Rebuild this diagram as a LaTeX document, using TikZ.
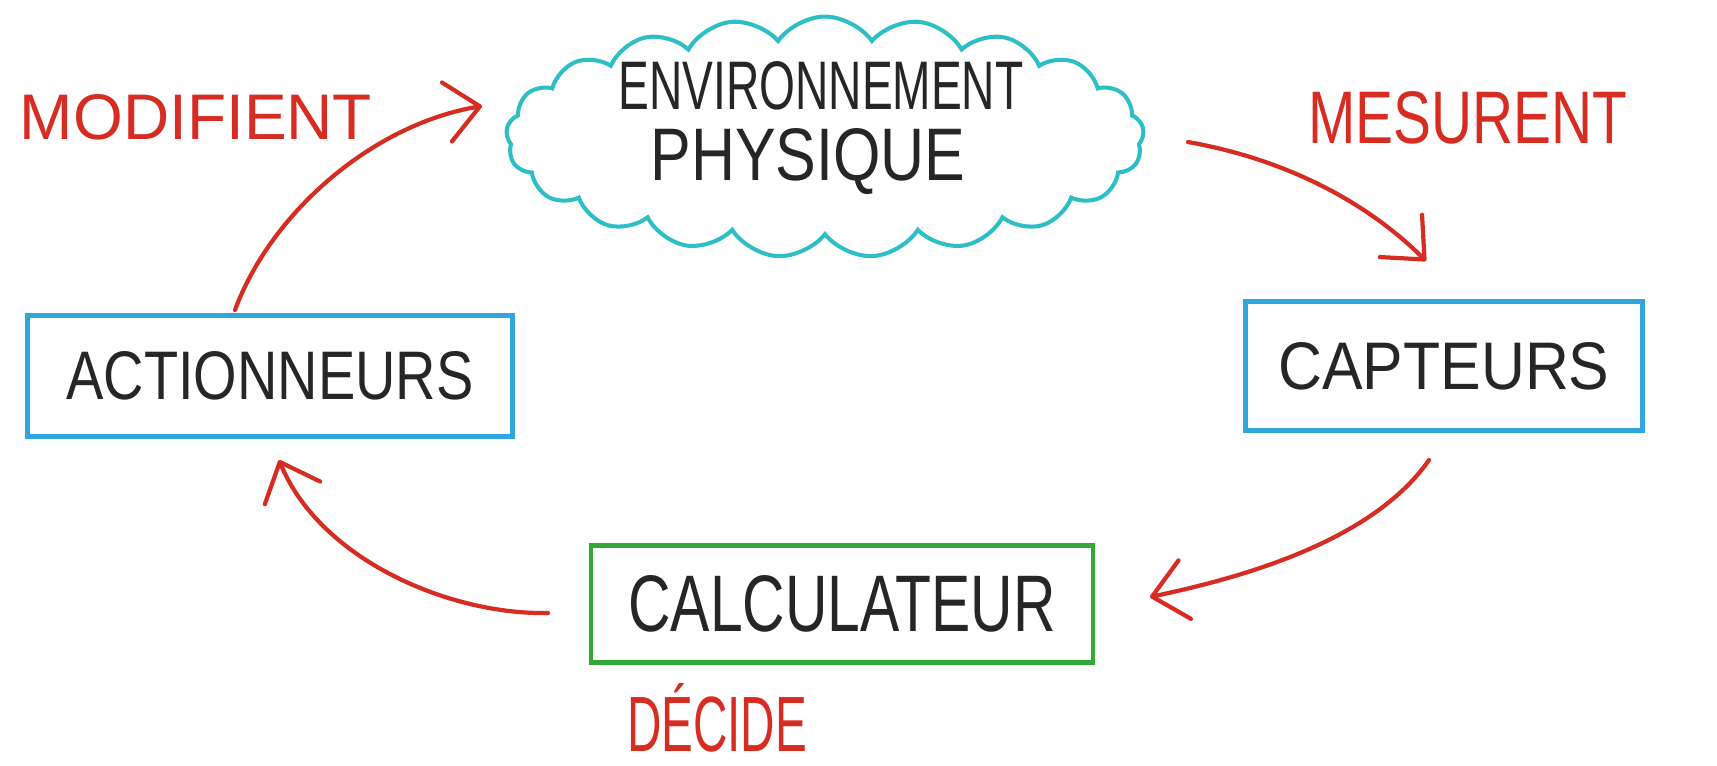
\documentclass[tikz,border=0pt]{standalone}
\usepackage{fontspec}
\setmainfont{Liberation Sans}
\usepackage{graphicx}
\usetikzlibrary{shapes.symbols,arrows.meta}

\definecolor{pen}{RGB}{214,44,34}
\definecolor{boxblue}{RGB}{48,165,222}
\definecolor{cloudteal}{RGB}{45,190,198}
\definecolor{boxgreen}{RGB}{52,168,52}
\definecolor{ink}{RGB}{38,38,38}

% one drawing unit = one pixel of a 1717 x 765 sheet
\newdimen\pxu \pxu=0.02cm
% text scaled to a given width and cap height (in pixels)
\newcommand\hw[3]{\resizebox{#1\pxu}{#2\pxu}{#3}}

\tikzset{
  word/.style={inner sep=0pt, text=ink},
  redword/.style={inner sep=0pt, text=pen},
  block/.style={draw, line width=2.4pt, inner sep=0pt, text=ink},
  flow/.style={draw=pen, line width=2.4pt, line cap=round,
    -{Straight Barb[length=19pt,width=34pt,line cap=round,line join=round]}},
}

\begin{document}
\begin{tikzpicture}[x=0.02cm,y=-0.02cm]
\useasboundingbox[fill=white] (0,0) rectangle (1717,765);

% the physical environment
\node[cloud, cloud puffs=21, cloud puff arc=110, aspect=2.6, cloud ignores aspect,
      draw=cloudteal, line width=2.3pt, minimum width=12.76cm, minimum height=4.82cm]
      (env) at (825,137) {};
\node[word] (envA) at (821,86)  {\hw{405}{48}{ENVIRONNEMENT}};
\node[word] (envB) at (808,162) {\hw{315}{52}{PHYSIQUE}};

% the three blocks of the loop
\node[block, draw=boxblue, minimum width=9.7cm, minimum height=2.42cm]
      (act) at (270,376) {\hw{407}{48}{ACTIONNEURS}\hspace{22\pxu}};
\node[block, draw=boxblue, minimum width=7.94cm, minimum height=2.58cm]
      (cap) at (1444,366) {\hw{331}{47}{CAPTEURS}};
\node[block, draw=boxgreen, minimum width=10.04cm, minimum height=2.34cm]
      (calc) at (842,604) {\hw{427}{56}{CALCULATEUR}\hspace{12\pxu}};

% verbs
\node[redword] (modif) at (196,117) {\hw{352}{45}{MODIFIENT}};
\node[redword] (mesur) at (1468,118) {\hw{319}{52}{MESURENT}};
\node[redword] (decid) at (717,718) {\hw{180}{68}{DÉCIDE}};

% arrow end points
\coordinate (m0) at (235,310);
\coordinate (m1) at (482,106);
\coordinate (s0) at (1188,142);
\coordinate (s1) at (1426,261);
\coordinate (c0) at (1429,460);
\coordinate (c1) at (1150,597);
\coordinate (d0) at (548,613);
\coordinate (d1) at (279,460);

\draw[flow] (m0) .. controls (270,215) and (370,125) .. (m1);
\draw[flow] (s0) .. controls (1290,160) and (1370,205) .. (s1);
\draw[flow] (c0) .. controls (1370,545) and (1230,580) .. (c1);
\draw[flow] (d0) .. controls (450,615) and (320,560) .. (d1);
\end{tikzpicture}
\end{document}
